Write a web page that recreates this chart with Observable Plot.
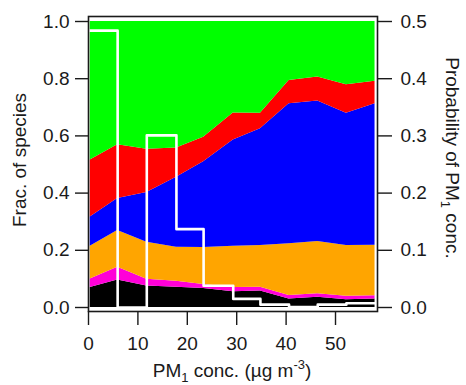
<!DOCTYPE html>
<html>
<head>
<meta charset="utf-8">
<script src="https://cdn.jsdelivr.net/npm/d3@7"></script>
<script src="https://cdn.jsdelivr.net/npm/@observablehq/plot@0.6"></script>
<style>
  html, body { margin: 0; padding: 0; background: #fff; }
  #chart { width: 466px; height: 385px; }
</style>
</head>
<body>
<div id="chart"></div>
<script>
// PM1 concentration at which each composition profile is evaluated (µg m-3)
const conc = [0.35, 5.9, 11.8, 17.8, 23.3, 29.3, 34.8, 40.6, 46.4, 52.2, 58.0];

// Mass fraction of each species, stacked bottom to top
const species = ["BC", "Chl", "NH4", "NO3", "SO4", "Org"];
const colors = ["#000000", "#ff00d8", "#ffa500", "#0000ff", "#ff0000", "#00ff00"];
const fracBC  = [0.070, 0.096, 0.075, 0.071, 0.066, 0.055, 0.058, 0.030, 0.036, 0.027, 0.030];
const fracChl = [0.030, 0.045, 0.024, 0.021, 0.014, 0.015, 0.013, 0.012, 0.012, 0.012, 0.011];
const fracNH4 = [0.114, 0.128, 0.129, 0.119, 0.130, 0.144, 0.146, 0.181, 0.183, 0.178, 0.177];
const fracNO3 = [0.102, 0.112, 0.174, 0.244, 0.300, 0.372, 0.408, 0.489, 0.491, 0.462, 0.494];
const fracSO4 = [0.200, 0.188, 0.151, 0.103, 0.085, 0.094, 0.054, 0.082, 0.084, 0.100, 0.079];
const fracOrg = [0.484, 0.431, 0.447, 0.442, 0.405, 0.320, 0.321, 0.206, 0.194, 0.221, 0.209];

// Probability distribution of PM1 concentration (histogram bin edges and probabilities)
const binEdges = [0, 5.9, 11.8, 17.8, 23.3, 29.3, 34.8, 40.6, 46.4, 52.2, 58.0];
const binProb  = [0.484, 0, 0.301, 0.137, 0.038, 0.015, 0.005, 0.001, 0.005, 0.0075];

// Tick values
const xTicks = [0, 10, 20, 30, 40, 50];
const fracTicks = [0, 0.2, 0.4, 0.6, 0.8, 1.0];
const probScale = 2; // right axis (0–0.5) shares the left axis range (0–1)

const fractions = [fracBC, fracChl, fracNH4, fracNO3, fracSO4, fracOrg];
const composition = species.flatMap((s, i) =>
  conc.map((c, j) => ({species: s, conc: c, frac: fractions[i][j]}))
);
const histogram = binEdges.map((e, i) => ({
  conc: e,
  prob: i < binProb.length ? binProb[i] : binProb[binProb.length - 1]
}));

const font = "'Liberation Sans', Arial, Helvetica, sans-serif";

const svg = Plot.plot({
  width: 466,
  height: 385,
  marginLeft: 88,
  marginRight: 89,
  marginTop: 16,
  marginBottom: 74,
  style: {fontFamily: font, fontSize: "19px", color: "#1a1a1a", background: "#fff"},
  x: {domain: [0, 58.5]},
  y: {domain: [0, 1], insetTop: 5, insetBottom: 4},
  color: {domain: species, range: colors},
  marks: [
    Plot.areaY(composition, {x: "conc", y: "frac", fill: "species", order: species}),
    Plot.line(histogram, {
      x: "conc", y: d => d.prob * probScale,
      curve: "step-after", stroke: "#fff", strokeWidth: 2.6
    }),
    Plot.frame({stroke: "#1a1a1a", strokeWidth: 1.6}),
    Plot.axisX({ticks: xTicks, tickSize: 14, tickPadding: 11, label: null, strokeWidth: 1.4}),
    Plot.axisY({anchor: "left", ticks: fracTicks, tickFormat: d => d.toFixed(1),
      tickSize: 13, tickPadding: 6, label: null, strokeWidth: 1.4}),
    Plot.axisY({anchor: "right", ticks: fracTicks, tickFormat: d => (d / probScale).toFixed(1),
      tickSize: 14, tickPadding: 9, label: null, strokeWidth: 1.4})
  ]
});

// Axis titles with sub/superscripts
const s = d3.select(svg);
const title = s.append("g")
  .attr("font-family", font)
  .attr("font-size", 19)
  .attr("fill", "#1a1a1a")
  .attr("text-anchor", "middle");

title.append("text")
  .attr("transform", "translate(26,160) rotate(-90)")
  .text("Frac. of species");

const right = title.append("text")
  .attr("transform", "translate(446,158) rotate(90)");
right.append("tspan").text("Probability of PM");
right.append("tspan").attr("font-size", 13).attr("dy", 5).text("1");
right.append("tspan").attr("dy", -5).text(" conc.");

const bottom = title.append("text")
  .attr("x", 232)
  .attr("y", 377);
bottom.append("tspan").text("PM");
bottom.append("tspan").attr("font-size", 13).attr("dy", 5).text("1");
bottom.append("tspan").attr("dy", -5).text(" conc. (µg m");
bottom.append("tspan").attr("font-size", 13).attr("dy", -8).text("-3");
bottom.append("tspan").attr("dy", 8).text(")");

document.getElementById("chart").appendChild(svg);
</script>
</body>
</html>
